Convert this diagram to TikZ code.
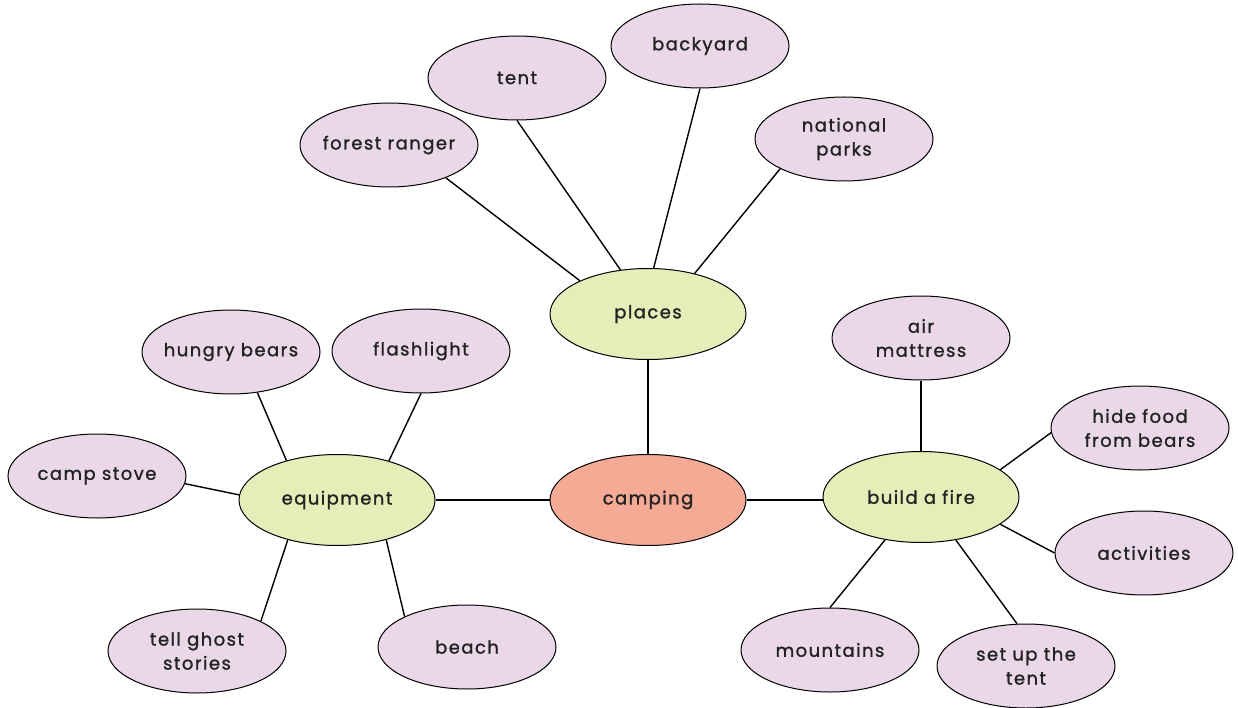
\documentclass[tikz,border=0pt]{standalone}
\usepackage{fontspec}
\setmainfont{Poppins}[LetterSpace=8,FakeBold=1.2]
\usetikzlibrary{shapes.geometric}
\definecolor{greenfill}{HTML}{E5EDB8}
\definecolor{salmonfill}{HTML}{F5AA96}
\definecolor{pinkfill}{HTML}{EAD7E8}
\definecolor{txt}{HTML}{222222}
\tikzset{
  bub/.style={ellipse, draw=black, line width=1pt, inner xsep=-25pt, inner ysep=0pt,
    minimum width=178pt, minimum height=84pt, align=center,
    font=\fontsize{18}{24}\selectfont, text=txt},
  leaf/.style={bub, fill=pinkfill},
  hub/.style={bub, fill=greenfill, minimum width=196pt, minimum height=91pt},
  root/.style={bub, fill=salmonfill, minimum width=196pt, minimum height=91pt},
  link/.style={line width=1.4pt, draw=black}
}
\begin{document}
\begin{tikzpicture}[x=1pt,y=-1pt]
\useasboundingbox (0,0) rectangle (1238,708);
\node[root] (camping) at (648,500) {camping};
\node[hub] (places) at (648,314) {places};
\node[hub] (equip) at (337,500) {equipment};
\node[hub] (fire) at (921,497) {build a fire};
\node[leaf] (ranger) at (389,145) {forest ranger};
\node[leaf] (tent) at (517,78) {tent};
\node[leaf] (backyard) at (700,46) {backyard};
\node[leaf] (parks) at (844,139) {national\\parks};
\node[leaf] (bears) at (231,352) {hungry bears};
\node[leaf] (flash) at (421,351) {flashlight};
\node[leaf] (stove) at (97,476) {camp stove};
\node[leaf] (ghost) at (197,651) {tell ghost\\stories};
\node[leaf] (beach) at (467,647) {beach};
\node[leaf] (air) at (921,338) {air\\mattress};
\node[leaf] (food) at (1140,428) {hide food\\from bears};
\node[leaf] (act) at (1144,553) {activities};
\node[leaf] (mount) at (830,650) {mountains};
\node[leaf] (setup) at (1026,666) {set up the\\tent};
\draw[link] (ranger.-30) -- (places.154);
\draw[link] (tent.-90) -- (places.122);
\draw[link] (backyard.-90) -- (places.83);
\draw[link] (parks.-155) -- (places.41);
\draw[link] (places) -- (camping);
\draw[link] (equip) -- (camping);
\draw[link] (camping.east) -- (camping.east -| fire.west);
\draw[link] (bears.-57) -- (equip.142);
\draw[link] (flash.-90) -- (equip.37);
\draw[link] (stove.-5) -- (equip.177);
\draw[link] (ghost.25) -- (equip.-141);
\draw[link] (beach.154) -- (equip.-39);
\draw[link] (air) -- (fire);
\draw[link] (food.183) -- (fire.19);
\draw[link] (act.180) -- (fire.-19);
\draw[link] (mount.90) -- (fire.-130);
\draw[link] (setup.102) -- (fire.-51);
\end{tikzpicture}
\end{document}
